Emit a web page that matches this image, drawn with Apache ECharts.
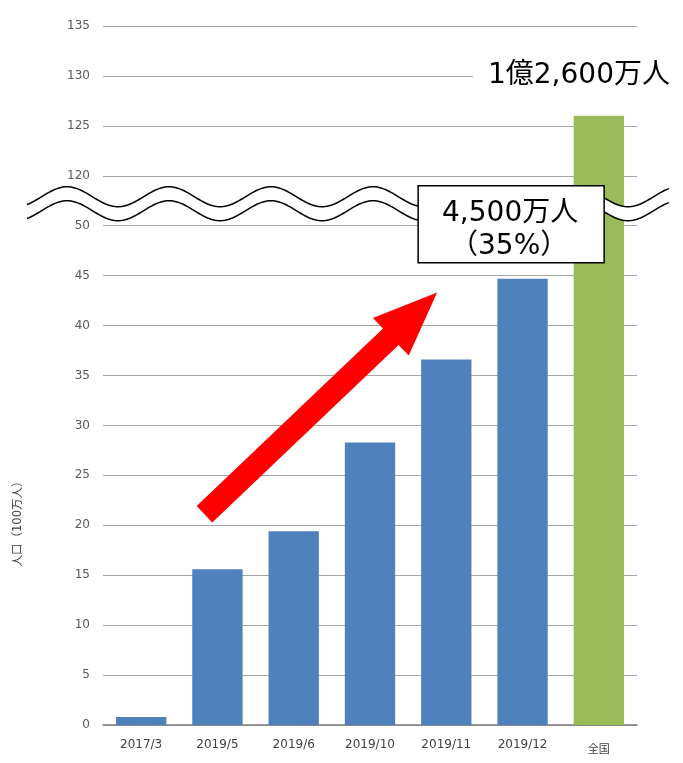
<!DOCTYPE html>
<html>
<head>
<meta charset="utf-8">
<script src="https://cdn.jsdelivr.net/npm/echarts@6/dist/echarts.min.js"></script>
<style>html,body{margin:0;padding:0;background:#fff}#c{width:683px;height:763px}</style>
</head>
<body>
<div id="c"></div>
<script>
// ---- data ----
var categories = ['2017/3', '2019/5', '2019/6', '2019/10', '2019/11', '2019/12', '全国'];
var populations = [0.8, 15.6, 19.4, 28.3, 36.6, 44.7, 126];   // 100万人
var barColors = ['#4f81bd', '#4f81bd', '#4f81bd', '#4f81bd', '#4f81bd', '#4f81bd', '#9bbb59'];
var lowerTicks = [0, 5, 10, 15, 20, 25, 30, 35, 40, 45, 50];
var upperTicks = [120, 125, 130, 135];
var totalLabel = '1億2,600万人';
var boxLine1 = '4,500万人';
var boxLine2 = '（35%）';
var yAxisName = '人口（100万人）';

// broken axis: lower segment 0..50, upper segment 120..135 placed right above
var BREAK_LOW = 50, BREAK_HIGH = 120, STEP = 5;
var SHIFT = BREAK_HIGH - BREAK_LOW - STEP; // 65
function toAxis(v) { return v >= BREAK_HIGH ? v - SHIFT : v; }
function fromAxis(a) { return a > BREAK_LOW ? a + SHIFT : a; }
var axisMax = toAxis(upperTicks[upperTicks.length - 1]);

var GRID = { left: 103, right: 46, top: 26, bottom: 38 };
var FONT = '"DejaVu Sans", Verdana, sans-serif';
var CJK = '"Noto Sans CJK JP", sans-serif';
var MIX = '"DejaVu Sans", "Noto Sans CJK JP", sans-serif';

var chart = echarts.init(document.getElementById('c'), null, { renderer: 'canvas' });

var option = {
  animation: false,
  backgroundColor: '#fff',
  grid: { left: GRID.left, right: GRID.right, top: GRID.top, bottom: GRID.bottom },
  xAxis: {
    type: 'category',
    data: categories,
    axisTick: { show: false },
    axisLine: { lineStyle: { color: '#7f7f7f', width: 1.5 } },
    axisLabel: {
      interval: 0,
      margin: 14, fontFamily: FONT, fontSize: 12, color: '#404040',
      formatter: function (v) { return /[^\x00-\x7f]/.test(v) ? '{cjk|' + v + '}' : v; },
      rich: { cjk: { fontFamily: CJK, fontSize: 11, color: '#404040', padding: [4, 0, 0, 0] } }
    }
  },
  yAxis: {
    type: 'value',
    min: 0, max: axisMax, interval: STEP,
    axisLine: { show: false },
    axisTick: { show: false },
    splitLine: { lineStyle: { color: '#a6a6a6', width: 1 } },
    axisLabel: {
      margin: 13, fontFamily: FONT, fontSize: 12, color: '#595959',
      formatter: function (a) { return String(fromAxis(a)); }
    }
  },
  series: [{
    type: 'bar',
    barCategoryGap: '34%',
    data: populations.map(function (v, i) {
      return { value: toAxis(v), itemStyle: { color: barColors[i] } };
    })
  }]
};
chart.setOption(option);

// ---- annotations positioned through the axes ----
var n = categories.length;
var bandW = (683 - GRID.left - GRID.right) / n;
function px(xi, v) {
  var y = chart.convertToPixel({ yAxisIndex: 0 }, toAxis(v));
  return [GRID.left + (xi + 0.5) * bandW, y];
}

// wavy break band (between 50 and 120)
var yMid = chart.convertToPixel({ yAxisIndex: 0 }, BREAK_LOW + 2.2);
var up = [], lo = [];
var x0 = 27, x1 = 670, period = 102, amp = 10, gap = 14, phase = 67;
for (var x = x0; x <= x1; x += 2) {
  var d = -amp * Math.cos(2 * Math.PI * (x - phase) / period);
  up.push([x, yMid - gap / 2 + d]);
  lo.push([x, yMid + gap / 2 + d]);
}
var band = up.concat(lo.slice().reverse());

// arrow from tail to tip
var tail = px(0.83, 21.1), tip = px(3.88, 43.3);
var dx = tip[0] - tail[0], dy = tip[1] - tail[1], L = Math.sqrt(dx * dx + dy * dy);
var ux = dx / L, uy = dy / L, nx = -uy, ny = ux;
var shaftW = 22.6, headW = 52, headL = 64;
var bx = tip[0] - ux * headL, by = tip[1] - uy * headL;
function pt(cx, cy, w) { return [cx + nx * w, cy + ny * w]; }
var arrow = [
  pt(tail[0], tail[1], shaftW / 2), pt(bx, by, shaftW / 2), pt(bx, by, headW / 2), tip,
  pt(bx, by, -headW / 2), pt(bx, by, -shaftW / 2), pt(tail[0], tail[1], -shaftW / 2)
];

// callout box anchored near 2019/11-2019/12 bars, straddling the break
var boxC = px(4.85, 50.15);
var boxW = 186, boxH = 77;
var totalPos = px(4.35, 130.0);

chart.setOption({
  graphic: [
    { type: 'polygon', z: 50, shape: { points: band }, style: { fill: '#fff', stroke: null } },
    { type: 'polyline', z: 51, shape: { points: up }, style: { stroke: '#000', lineWidth: 1.5, fill: null } },
    { type: 'polyline', z: 51, shape: { points: lo }, style: { stroke: '#000', lineWidth: 1.5, fill: null } },
    { type: 'polygon', z: 52, shape: { points: arrow }, style: { fill: '#ff0000' } },
    { type: 'rect', z: 53, shape: { x: boxC[0] - boxW / 2, y: boxC[1] - boxH / 2, width: boxW, height: boxH },
      style: { fill: '#fff', stroke: '#000', lineWidth: 1.5 } },
    { type: 'text', z: 54, x: boxC[0] - 1, y: boxC[1] - 10,
      style: { text: boxLine1, fontFamily: MIX, fontSize: 28, fill: '#000', align: 'center', verticalAlign: 'middle' } },
    { type: 'text', z: 54, x: boxC[0] - 2, y: boxC[1] + 23,
      style: { text: boxLine2, fontFamily: MIX, fontSize: 28, fill: '#000', align: 'center', verticalAlign: 'middle' } },
    { type: 'rect', z: 53, shape: { x: totalPos[0], y: totalPos[1] - 20, width: 683 - totalPos[0], height: 40 },
      style: { fill: '#fff' } },
    { type: 'text', z: 54, x: totalPos[0] + 15, y: totalPos[1],
      style: { text: totalLabel, fontFamily: MIX, fontSize: 28, fill: '#000', align: 'left', verticalAlign: 'middle' } },
    { type: 'text', z: 54, x: 18, y: 521, rotation: Math.PI / 2,
      style: { text: yAxisName, fontFamily: MIX, fontSize: 11.5, fill: '#404040', align: 'center', verticalAlign: 'middle' } }
  ]
});
</script>
</body>
</html>
